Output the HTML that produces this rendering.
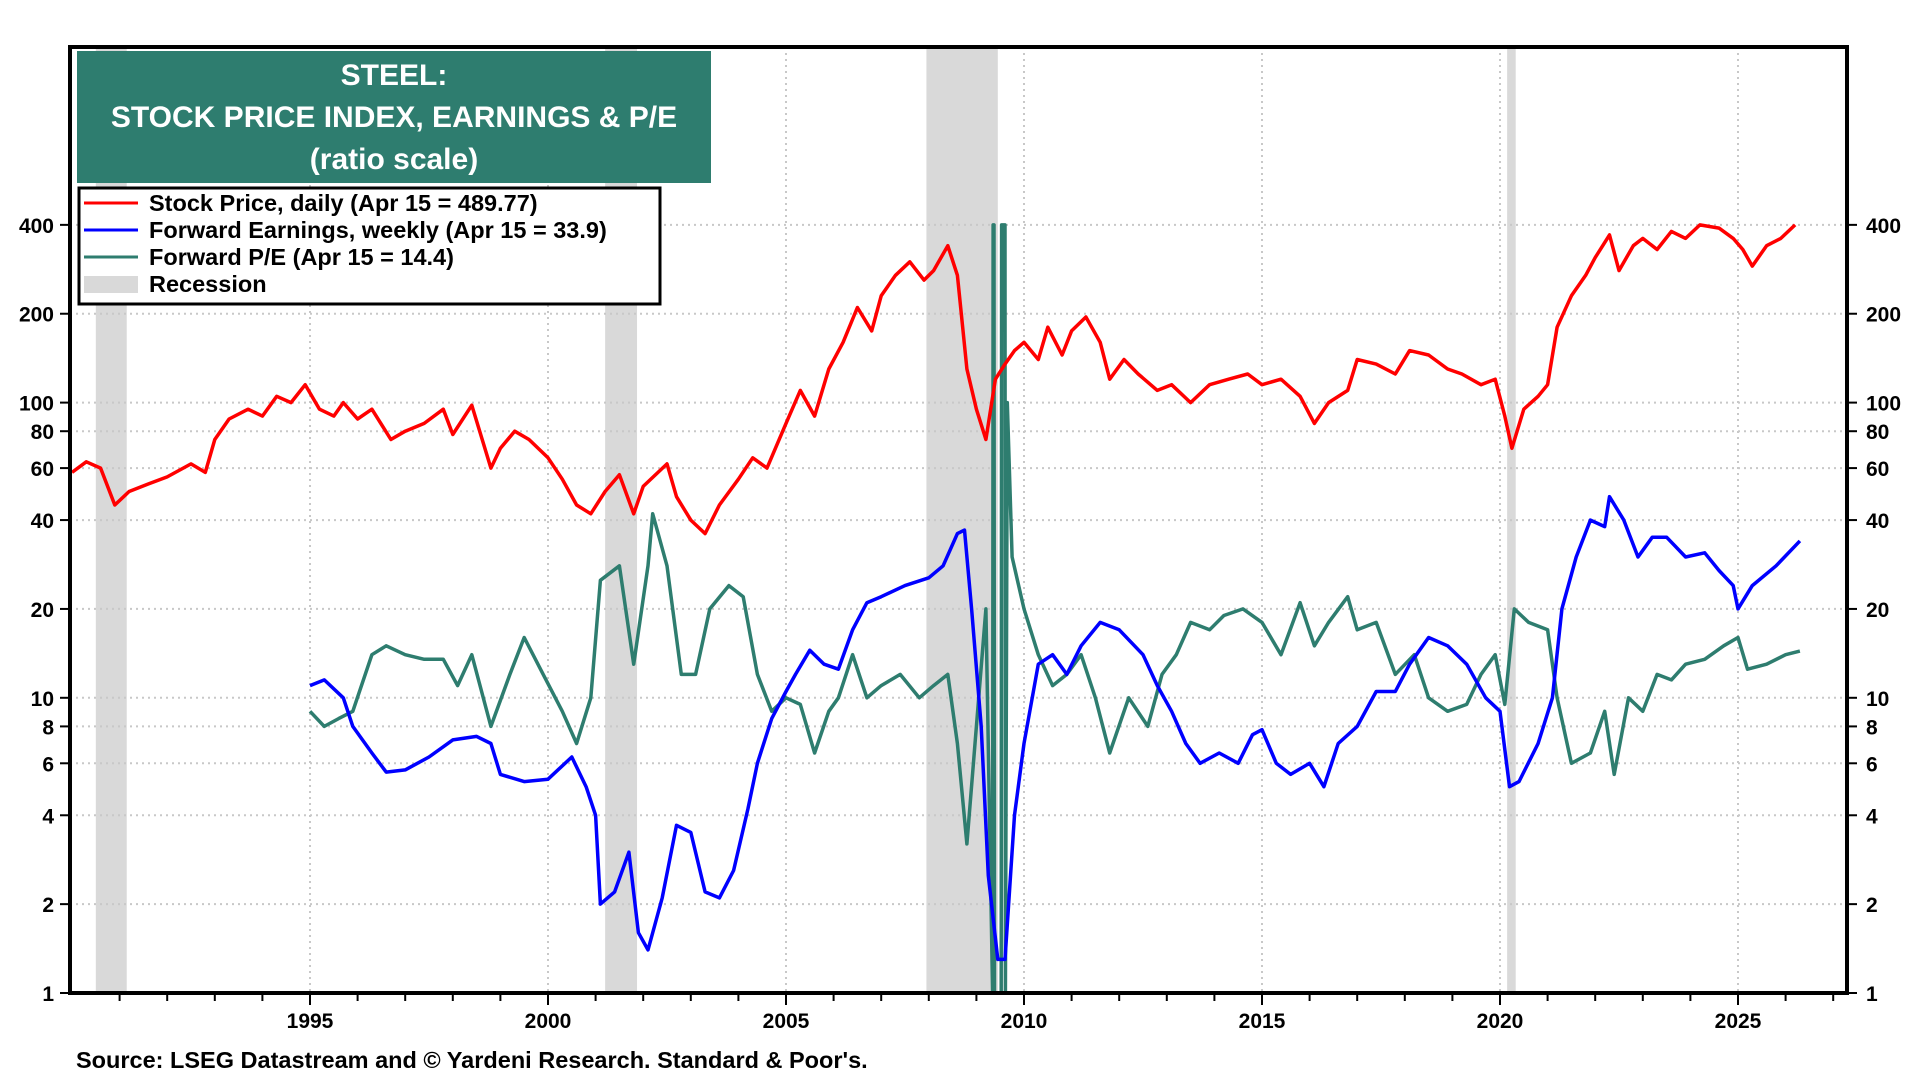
<!DOCTYPE html>
<html><head><meta charset="utf-8"><style>
body{margin:0;background:#fff;width:1920px;height:1080px;overflow:hidden;font-family:"Liberation Sans",Arial,sans-serif}
svg text{font-family:"Liberation Sans",Arial,sans-serif;font-weight:bold}
</style></head><body>
<svg id="chart" width="1920" height="1080" viewBox="0 0 1920 1080" xmlns="http://www.w3.org/2000/svg">
<g id="rec"></g>
<g id="grid"></g>
<g id="series"></g>
<rect x="70" y="47" width="1777" height="946" fill="none" stroke="#000" stroke-width="4"/>
<g id="axes"></g>
<rect x="77" y="51" width="634" height="132" fill="#2e7d6f"/>
<text x="394" y="85" fill="#fff" font-size="30" text-anchor="middle">STEEL:</text>
<text x="394" y="127" fill="#fff" font-size="30" text-anchor="middle">STOCK PRICE INDEX, EARNINGS &amp; P/E</text>
<text x="394" y="169" fill="#fff" font-size="30" text-anchor="middle">(ratio scale)</text>
<g>
<rect x="79" y="188" width="581" height="116" fill="#fff" stroke="#000" stroke-width="3"/>
<line x1="84" y1="203" x2="138" y2="203" stroke="#ff0000" stroke-width="3"/>
<text x="149" y="211" font-size="23.5">Stock Price, daily (Apr 15 = 489.77)</text>
<line x1="84" y1="230" x2="138" y2="230" stroke="#0000ff" stroke-width="3"/>
<text x="149" y="238" font-size="23.5">Forward Earnings, weekly (Apr 15 = 33.9)</text>
<line x1="84" y1="257" x2="138" y2="257" stroke="#2e7d6f" stroke-width="3"/>
<text x="149" y="265" font-size="23.5">Forward P/E (Apr 15 = 14.4)</text>
<rect x="84" y="276" width="54" height="17" fill="#d9d9d9"/>
<text x="149" y="292" font-size="23.5">Recession</text>
</g>
<text x="76" y="1068" font-size="23.5">Source: LSEG Datastream and © Yardeni Research. Standard &amp; Poor's.</text>
</svg>
<script>
const yTicks=[1,2,4,6,8,10,20,40,60,80,100,200,400];
const xTicks=[1995,2000,2005,2010,2015,2020,2025];
const recessions=[[1990.5,1991.15],[2001.2,2001.87],[2007.95,2009.45],[2020.15,2020.33]];
const priceT=[1990.0,1990.3,1990.6,1990.9,1991.2,1991.6,1992,1992.5,1992.8,1993.0,1993.3,1993.7,1994.0,1994.3,1994.6,1994.9,1995.2,1995.5,1995.7,1996,1996.3,1996.7,1997,1997.4,1997.8,1998.0,1998.4,1998.8,1999.0,1999.3,1999.6,2000.0,2000.3,2000.6,2000.9,2001.2,2001.5,2001.8,2002.0,2002.5,2002.7,2003.0,2003.3,2003.6,2004.0,2004.3,2004.6,2005.0,2005.3,2005.6,2005.9,2006.2,2006.5,2006.8,2007.0,2007.3,2007.6,2007.9,2008.1,2008.4,2008.6,2008.8,2009.0,2009.2,2009.4,2009.6,2009.8,2010.0,2010.3,2010.5,2010.8,2011.0,2011.3,2011.6,2011.8,2012.1,2012.4,2012.8,2013.1,2013.5,2013.9,2014.3,2014.7,2015.0,2015.4,2015.8,2016.1,2016.4,2016.8,2017.0,2017.4,2017.8,2018.1,2018.5,2018.9,2019.2,2019.6,2019.9,2020.1,2020.25,2020.5,2020.8,2021.0,2021.2,2021.5,2021.8,2022.0,2022.3,2022.5,2022.8,2023.0,2023.3,2023.6,2023.9,2024.2,2024.6,2024.9,2025.1,2025.3,2025.6,2025.9,2026.2];
const priceV=[58,63,60,45,50,53,56,62,58,75,88,95,90,105,100,115,95,90,100,88,95,75,80,85,95,78,98,60,70,80,75,65,55,45,42,50,57,42,52,62,48,40,36,45,55,65,60,85,110,90,130,160,210,175,230,270,300,260,280,340,270,130,95,75,120,135,150,160,140,180,145,175,195,160,120,140,125,110,115,100,115,120,125,115,120,105,85,100,110,140,135,125,150,145,130,125,115,120,90,70,95,105,115,180,230,270,310,370,280,340,360,330,380,360,400,390,360,330,290,340,360,400];
const earnT=[1995.0,1995.3,1995.7,1995.9,1996.3,1996.6,1997.0,1997.5,1998.0,1998.5,1998.8,1999.0,1999.5,2000.0,2000.5,2000.8,2001.0,2001.1,2001.4,2001.7,2001.9,2002.1,2002.4,2002.7,2003.0,2003.3,2003.6,2003.9,2004.2,2004.4,2004.7,2005.0,2005.2,2005.5,2005.8,2006.1,2006.4,2006.7,2007.0,2007.5,2008.0,2008.3,2008.6,2008.75,2008.9,2009.1,2009.25,2009.45,2009.6,2009.8,2010.0,2010.3,2010.6,2010.9,2011.2,2011.6,2012.0,2012.5,2012.8,2013.1,2013.4,2013.7,2014.1,2014.5,2014.8,2015.0,2015.3,2015.6,2016.0,2016.3,2016.6,2017.0,2017.4,2017.8,2018.1,2018.5,2018.9,2019.3,2019.7,2020.0,2020.2,2020.4,2020.8,2021.1,2021.3,2021.6,2021.9,2022.2,2022.3,2022.6,2022.9,2023.2,2023.5,2023.9,2024.3,2024.6,2024.9,2025.0,2025.3,2025.8,2026.3];
const earnV=[11,11.5,10,8,6.5,5.6,5.7,6.3,7.2,7.4,7,5.5,5.2,5.3,6.3,5,4,2,2.2,3,1.6,1.4,2.1,3.7,3.5,2.2,2.1,2.6,4.2,6,8.5,10.5,12,14.5,13,12.5,17,21,22,24,25.5,28,36,37,20,8,2.5,1.3,1.3,4,7,13,14,12,15,18,17,14,11,9,7,6,6.5,6,7.5,7.8,6,5.5,6,5,7,8,10.5,10.5,13,16,15,13,10,9,5,5.2,7,10,20,30,40,38,48,40,30,35,35,30,31,27,24,20,24,28,34];
const peT=[1995.0,1995.3,1995.6,1995.9,1996.3,1996.6,1997.0,1997.4,1997.8,1998.1,1998.4,1998.8,1999.2,1999.5,1999.9,2000.3,2000.6,2000.9,2001.1,2001.5,2001.8,2002.1,2002.2,2002.5,2002.8,2003.1,2003.4,2003.8,2004.1,2004.4,2004.7,2005.0,2005.3,2005.6,2005.9,2006.1,2006.4,2006.7,2007.0,2007.4,2007.8,2008.1,2008.4,2008.6,2008.8,2009.0,2009.2,2009.34,2009.35,2009.37,2009.38,2009.52,2009.53,2009.6,2009.61,2009.65,2009.75,2010.0,2010.3,2010.6,2010.9,2011.2,2011.5,2011.8,2012.2,2012.6,2012.9,2013.2,2013.5,2013.9,2014.2,2014.6,2015.0,2015.4,2015.8,2016.1,2016.4,2016.8,2017.0,2017.4,2017.8,2018.2,2018.5,2018.9,2019.3,2019.6,2019.9,2020.1,2020.3,2020.6,2021.0,2021.2,2021.5,2021.9,2022.2,2022.4,2022.7,2023.0,2023.3,2023.6,2023.9,2024.3,2024.7,2025.0,2025.2,2025.6,2026.0,2026.3];
const peV=[9,8,8.5,9,14,15,14,13.5,13.5,11,14,8,12,16,12,9,7,10,25,28,13,28,42,28,12,12,20,24,22,12,9,10,9.5,6.5,9,10,14,10,11,12,10,11,12,7,3.2,8,20,1,400,400,1,1,400,400,1,100,30,20,14,11,12,14,10,6.5,10,8,12,14,18,17,19,20,18,14,21,15,18,22,17,18,12,14,10,9,9.5,12,14,9.5,20,18,17,10,6,6.5,9,5.5,10,9,12,11.5,13,13.5,15,16,12.5,13,14,14.4];

const NS='http://www.w3.org/2000/svg';
const X0=70,X1=1847,Y1=993,DEC=295.2;
function xs(t){return 548+(t-2000)*47.6;}
function ys(v){v=Math.max(1,Math.min(400,v));return Y1-Math.log10(v)*DEC;}
function mk(tag,at,parent){const e=document.createElementNS(NS,tag);for(const k in at)e.setAttribute(k,at[k]);document.getElementById(parent).appendChild(e);return e;}

recessions.forEach(r=>{
  const e=mk('rect',{x:xs(r[0]),y:47,width:xs(r[1])-xs(r[0]),height:946,fill:'#d9d9d9'},'rec');
  
  
});
yTicks.forEach(v=>{
  const y=ys(v);
  if(v>1){const g=mk('line',{x1:X0,x2:X1,y1:y,y2:y,stroke:'#c8c8c8','stroke-width':2,'stroke-dasharray':'2,4'},'grid');
  
  }
  mk('line',{x1:X0-10,x2:X0,y1:y,y2:y,stroke:'#000','stroke-width':2},'axes');
  mk('line',{x1:X1,x2:X1+10,y1:y,y2:y,stroke:'#000','stroke-width':2},'axes');
  const l=mk('text',{x:X0-16,y:y+8,'font-size':21,'text-anchor':'end'},'axes');l.textContent=v;
  
  
  const r=mk('text',{x:X1+19,y:y+8,'font-size':21},'axes');r.textContent=v;
  
  
});
for(let yr=1991;yr<=2027;yr++){
  const x=xs(yr);
  mk('line',{x1:x,x2:x,y1:Y1,y2:Y1+(yr%5==0?12:8),stroke:'#000','stroke-width':2},'axes');
}
xTicks.forEach(t=>{
  const x=xs(t);
  const g=mk('line',{x1:x,x2:x,y1:47,y2:Y1,stroke:'#c8c8c8','stroke-width':2,'stroke-dasharray':'2,4'},'grid');
  
  
  const l=mk('text',{x:x,y:1028,'font-size':21,'text-anchor':'middle'},'axes');l.textContent=t;
  
  
});
function line(T,V,color,name){
  const pts=T.map((t,i)=>xs(t).toFixed(1)+','+ys(V[i]).toFixed(1)).join(' ');
  const p=mk('polyline',{points:pts,fill:'none',stroke:color,'stroke-width':3.5,'stroke-linejoin':'round'},'series');
  
  
}
line(peT,peV,'#2e7d6f','forward-pe-line');
line(earnT,earnV,'#0000ff','forward-earnings-line');
line(priceT,priceV,'#ff0000','stock-price-line');
</script>
</body></html>
